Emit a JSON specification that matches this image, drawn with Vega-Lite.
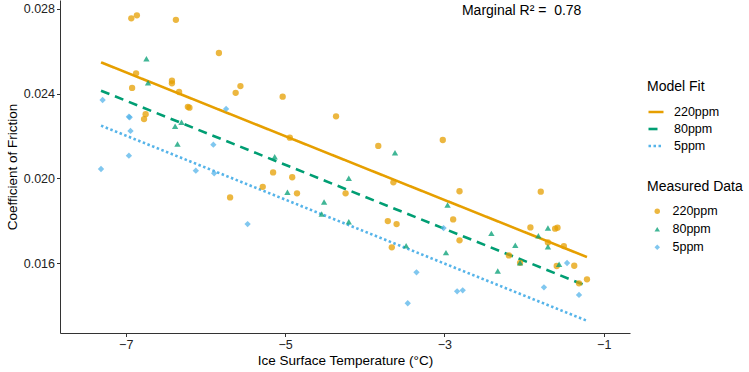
{
  "$schema": "https://vega.github.io/schema/vega-lite/v6.json",
  "width": 570,
  "height": 333,
  "autosize": {"type": "none"},
  "padding": {"left": 60, "top": 0, "right": 119, "bottom": 39},
  "config": {
    "view": {"stroke": null},
    "font": "Liberation Sans",
    "axis": {
      "grid": false,
      "domainColor": "#333333",
      "domainWidth": 1,
      "tickColor": "#333333",
      "tickSize": 3.5,
      "tickWidth": 1,
      "labelColor": "#222222",
      "labelFontSize": 12.5,
      "labelPadding": 2,
      "titleFontSize": 13.5,
      "titleFontWeight": "normal",
      "titleColor": "#000000"
    },
    "legend": {
      "titleFontSize": 14,
      "titleFontWeight": "normal",
      "titleColor": "#000000",
      "labelFontSize": 12.5,
      "labelColor": "#000000"
    }
  },
  "datasets": {
    "fits": [
      {"Level": "220ppm", "temp": -7.31, "cof": 0.02548},
      {"Level": "220ppm", "temp": -1.21, "cof": 0.01628},
      {"Level": "80ppm", "temp": -7.31, "cof": 0.02414},
      {"Level": "80ppm", "temp": -1.21, "cof": 0.01491},
      {"Level": "5ppm", "temp": -7.31, "cof": 0.02249},
      {"Level": "5ppm", "temp": -1.21, "cof": 0.01327}
    ],
    "points": [
      {"Level": "220ppm", "temp": -6.93, "cof": 0.02756},
      {"Level": "220ppm", "temp": -6.86, "cof": 0.02770},
      {"Level": "220ppm", "temp": -6.37, "cof": 0.02749},
      {"Level": "220ppm", "temp": -5.83, "cof": 0.02592},
      {"Level": "220ppm", "temp": -6.87, "cof": 0.02496},
      {"Level": "220ppm", "temp": -6.92, "cof": 0.02427},
      {"Level": "220ppm", "temp": -6.42, "cof": 0.02461},
      {"Level": "220ppm", "temp": -6.42, "cof": 0.02449},
      {"Level": "220ppm", "temp": -6.33, "cof": 0.02408},
      {"Level": "220ppm", "temp": -5.56, "cof": 0.02436},
      {"Level": "220ppm", "temp": -5.62, "cof": 0.02404},
      {"Level": "220ppm", "temp": -5.03, "cof": 0.02386},
      {"Level": "220ppm", "temp": -6.22, "cof": 0.02338},
      {"Level": "220ppm", "temp": -6.20, "cof": 0.02334},
      {"Level": "220ppm", "temp": -6.75, "cof": 0.02303},
      {"Level": "220ppm", "temp": -6.77, "cof": 0.02280},
      {"Level": "220ppm", "temp": -4.94, "cof": 0.02192},
      {"Level": "220ppm", "temp": -5.15, "cof": 0.02028},
      {"Level": "220ppm", "temp": -4.91, "cof": 0.02005},
      {"Level": "220ppm", "temp": -5.28, "cof": 0.01960},
      {"Level": "220ppm", "temp": -4.85, "cof": 0.01929},
      {"Level": "220ppm", "temp": -5.69, "cof": 0.01910},
      {"Level": "220ppm", "temp": -4.36, "cof": 0.02293},
      {"Level": "220ppm", "temp": -3.83, "cof": 0.02153},
      {"Level": "220ppm", "temp": -3.02, "cof": 0.02181},
      {"Level": "220ppm", "temp": -3.64, "cof": 0.01981},
      {"Level": "220ppm", "temp": -4.24, "cof": 0.01929},
      {"Level": "220ppm", "temp": -3.71, "cof": 0.01798},
      {"Level": "220ppm", "temp": -3.60, "cof": 0.01784},
      {"Level": "220ppm", "temp": -3.66, "cof": 0.01674},
      {"Level": "220ppm", "temp": -2.81, "cof": 0.01939},
      {"Level": "220ppm", "temp": -1.79, "cof": 0.01937},
      {"Level": "220ppm", "temp": -2.89, "cof": 0.01806},
      {"Level": "220ppm", "temp": -2.81, "cof": 0.01707},
      {"Level": "220ppm", "temp": -1.92, "cof": 0.01768},
      {"Level": "220ppm", "temp": -1.61, "cof": 0.01762},
      {"Level": "220ppm", "temp": -1.58, "cof": 0.01767},
      {"Level": "220ppm", "temp": -2.19, "cof": 0.01636},
      {"Level": "220ppm", "temp": -2.05, "cof": 0.01601},
      {"Level": "220ppm", "temp": -1.50, "cof": 0.01680},
      {"Level": "220ppm", "temp": -1.59, "cof": 0.01586},
      {"Level": "220ppm", "temp": -1.37, "cof": 0.01587},
      {"Level": "220ppm", "temp": -1.31, "cof": 0.01504},
      {"Level": "220ppm", "temp": -1.21, "cof": 0.01523},
      {"Level": "220ppm", "temp": -1.70, "cof": 0.01697},
      {"Level": "80ppm", "temp": -6.74, "cof": 0.02565},
      {"Level": "80ppm", "temp": -6.72, "cof": 0.02452},
      {"Level": "80ppm", "temp": -6.38, "cof": 0.02246},
      {"Level": "80ppm", "temp": -6.30, "cof": 0.02265},
      {"Level": "80ppm", "temp": -6.35, "cof": 0.02162},
      {"Level": "80ppm", "temp": -5.13, "cof": 0.02102},
      {"Level": "80ppm", "temp": -4.97, "cof": 0.01934},
      {"Level": "80ppm", "temp": -4.51, "cof": 0.01888},
      {"Level": "80ppm", "temp": -4.54, "cof": 0.01831},
      {"Level": "80ppm", "temp": -3.62, "cof": 0.02121},
      {"Level": "80ppm", "temp": -4.20, "cof": 0.02000},
      {"Level": "80ppm", "temp": -4.20, "cof": 0.01795},
      {"Level": "80ppm", "temp": -2.96, "cof": 0.01874},
      {"Level": "80ppm", "temp": -3.48, "cof": 0.01682},
      {"Level": "80ppm", "temp": -2.98, "cof": 0.01649},
      {"Level": "80ppm", "temp": -2.41, "cof": 0.01740},
      {"Level": "80ppm", "temp": -1.82, "cof": 0.01729},
      {"Level": "80ppm", "temp": -1.70, "cof": 0.01765},
      {"Level": "80ppm", "temp": -2.11, "cof": 0.01684},
      {"Level": "80ppm", "temp": -1.70, "cof": 0.01677},
      {"Level": "80ppm", "temp": -2.05, "cof": 0.01601},
      {"Level": "80ppm", "temp": -2.33, "cof": 0.01562},
      {"Level": "80ppm", "temp": -1.56, "cof": 0.01594},
      {"Level": "5ppm", "temp": -7.29, "cof": 0.02370},
      {"Level": "5ppm", "temp": -6.96, "cof": 0.02291},
      {"Level": "5ppm", "temp": -6.95, "cof": 0.02288},
      {"Level": "5ppm", "temp": -6.94, "cof": 0.02224},
      {"Level": "5ppm", "temp": -6.96, "cof": 0.02107},
      {"Level": "5ppm", "temp": -7.31, "cof": 0.02044},
      {"Level": "5ppm", "temp": -5.74, "cof": 0.02328},
      {"Level": "5ppm", "temp": -5.90, "cof": 0.02159},
      {"Level": "5ppm", "temp": -6.12, "cof": 0.02036},
      {"Level": "5ppm", "temp": -5.89, "cof": 0.02024},
      {"Level": "5ppm", "temp": -5.47, "cof": 0.01784},
      {"Level": "5ppm", "temp": -3.01, "cof": 0.01765},
      {"Level": "5ppm", "temp": -3.35, "cof": 0.01556},
      {"Level": "5ppm", "temp": -3.46, "cof": 0.01410},
      {"Level": "5ppm", "temp": -1.46, "cof": 0.01600},
      {"Level": "5ppm", "temp": -2.84, "cof": 0.01466},
      {"Level": "5ppm", "temp": -2.77, "cof": 0.01471},
      {"Level": "5ppm", "temp": -1.75, "cof": 0.01485},
      {"Level": "5ppm", "temp": -1.31, "cof": 0.01449}
    ],
    "notes": [
      {"temp": -2.03, "cof": 0.02791, "label": "Marginal R² = \u00a00.78"}
    ]
  },
  "layer": [
    {
      "data": {"name": "fits"},
      "mark": {"type": "line", "strokeWidth": 2.6, "strokeCap": "butt"},
      "encoding": {
        "x": {
          "field": "temp", "type": "quantitative",
          "scale": {"domain": [-7.825, -0.67], "nice": false, "zero": false},
          "axis": {"values": [-7, -5, -3, -1], "format": "d", "title": "Ice Surface Temperature (°C)", "titlePadding": 2}
        },
        "y": {
          "field": "cof", "type": "quantitative",
          "scale": {"domain": [0.012693, 0.028425], "nice": false, "zero": false},
          "axis": {"values": [0.016, 0.020, 0.024, 0.028], "format": ".3f", "title": "Coefficient of Friction", "titlePadding": 4}
        },
        "color": {
          "field": "Level", "type": "nominal",
          "scale": {"domain": ["220ppm", "80ppm", "5ppm"], "range": ["#E69F00", "#009E73", "#56B4E9"]},
          "legend": {"title": "Model Fit", "orient": "none", "legendX": 587, "legendY": 80, "titlePadding": 9, "symbolType": "stroke", "symbolSize": 225, "symbolStrokeWidth": 2.6, "labelOffset": 9, "rowPadding": 1}
        },
        "strokeDash": {
          "field": "Level", "type": "nominal",
          "scale": {"domain": ["220ppm", "80ppm", "5ppm"], "range": [[1, 0], [9, 6], [2.5, 2.5]]},
          "legend": {"title": "Model Fit", "orient": "none", "legendX": 587, "legendY": 80, "titlePadding": 9, "symbolType": "stroke", "symbolSize": 225, "symbolStrokeWidth": 2.6, "labelOffset": 9, "rowPadding": 1}
        }
      }
    },
    {
      "data": {"name": "points"},
      "mark": {"type": "point", "filled": true, "opacity": 0.75, "size": 40},
      "encoding": {
        "x": {"field": "temp", "type": "quantitative"},
        "y": {"field": "cof", "type": "quantitative"},
        "color": {
          "field": "Level", "type": "nominal",
          "scale": {"domain": ["220ppm", "80ppm", "5ppm"], "range": ["#E69F00", "#009E73", "#56B4E9"]},
          "legend": {"title": "Measured Data", "orient": "none", "legendX": 587, "legendY": 180, "titlePadding": 11, "symbolSize": 30, "symbolOffset": 4, "labelOffset": 9, "rowPadding": 5}
        },
        "shape": {
          "field": "Level", "type": "nominal",
          "scale": {"domain": ["220ppm", "80ppm", "5ppm"], "range": ["circle", "triangle-up", "diamond"]},
          "legend": {"title": "Measured Data", "orient": "none", "legendX": 587, "legendY": 180, "titlePadding": 11, "symbolSize": 30, "symbolOffset": 4, "labelOffset": 9, "rowPadding": 5}
        }
      }
    },
    {
      "data": {"name": "notes"},
      "mark": {"type": "text", "fontSize": 14, "color": "#000000"},
      "encoding": {
        "x": {"field": "temp", "type": "quantitative"},
        "y": {"field": "cof", "type": "quantitative"},
        "text": {"field": "label"}
      }
    }
  ],
  "resolve": {"scale": {"color": "independent", "shape": "independent", "strokeDash": "independent"}}
}
